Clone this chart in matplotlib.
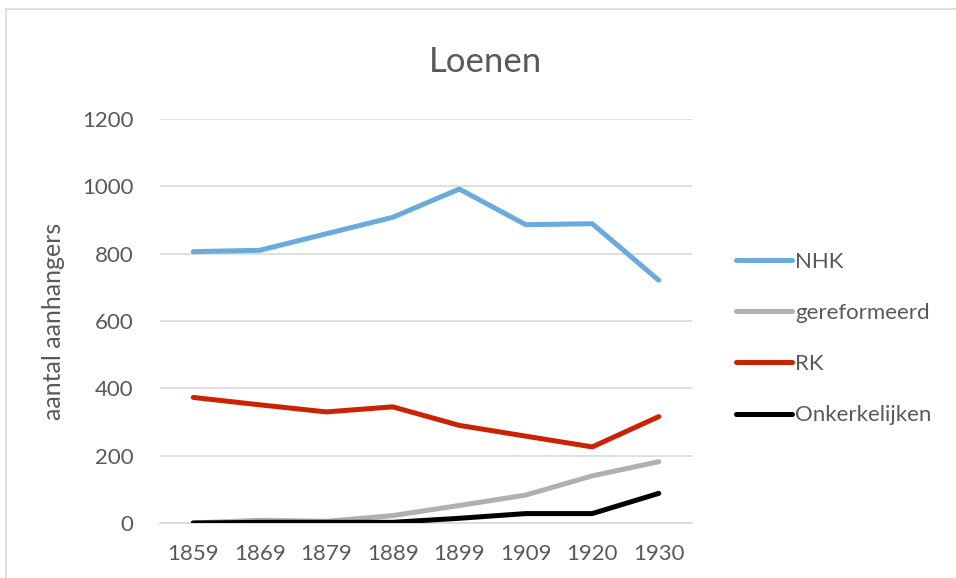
import matplotlib.pyplot as plt
from matplotlib.patches import Rectangle

# data
years = ["1859", "1869", "1879", "1889", "1899", "1909", "1920", "1930"]
nhk = [806, 810, 859, 908, 992, 886, 889, 721]
gereformeerd = [0, 8, 5, 22, 52, 83, 140, 182]
rk = [373, 351, 330, 345, 290, 258, 226, 316]
onkerkelijken = [0, 2, 2, 2, 14, 28, 28, 88]

series = [
    ("NHK", nhk, "#6aaadd"),
    ("gereformeerd", gereformeerd, "#b0b0b0"),
    ("RK", rk, "#cc2200"),
    ("Onkerkelijken", onkerkelijken, "#000000"),
]

plt.rcParams['font.family'] = ['Lato', 'DejaVu Sans']
text_col = "#595959"
grid_col = "#d9d9d9"

W, H = 956, 578
fig = plt.figure(figsize=(W / 100, H / 100), dpi=100)

# chart frame (only top and left edge visible in the crop)
fig.patches.append(Rectangle((6 / W, -0.1), 1.2, 1 - 9 / H + 0.1,
                             transform=fig.transFigure, fill=False,
                             edgecolor=grid_col, linewidth=1.2))

left, right = 160 / W, 692 / W
bottom, top = 1 - 523 / H, 1 - 119 / H
ax = fig.add_axes([left, bottom, right - left, top - bottom])

x = range(len(years))
for name, vals, col in series:
    ax.plot(x, vals, color=col, linewidth=3.6, label=name,
            solid_capstyle="round", solid_joinstyle="round", zorder=3)

ax.set_xlim(-0.5, len(years) - 0.5)
ax.set_ylim(0, 1200)
ax.set_yticks(range(0, 1201, 200))
ax.set_xticks(list(x))
ax.set_xticklabels(years)
ax.yaxis.grid(True, color=grid_col, linewidth=1.2)
ax.set_axisbelow(True)
for s in ["top", "right", "left"]:
    ax.spines[s].set_visible(False)
ax.spines["bottom"].set_color(grid_col)
ax.spines["bottom"].set_linewidth(1.2)
ax.tick_params(length=0, labelsize=16, colors=text_col)
ax.tick_params(axis="y", pad=19)
ax.tick_params(axis="x", pad=15)

ax.set_ylabel("aantal aanhangers", fontsize=18, color=text_col)
ax.yaxis.set_label_coords(-(160 - 65) / (692 - 160), 0.5)

fig.text(486 / W, 1 - 62 / H, "Loenen", ha="center", va="center",
         fontsize=25, color=text_col)

leg = ax.legend(loc="upper left", bbox_to_anchor=(736 / W, 1 - 252 / H),
                bbox_transform=fig.transFigure, frameon=False, fontsize=16,
                handlelength=2.5, handletextpad=0.15, labelspacing=1.4,
                borderpad=0, borderaxespad=0)
for t in leg.get_texts():
    t.set_color(text_col)

fig.savefig("out.png", dpi=100)
